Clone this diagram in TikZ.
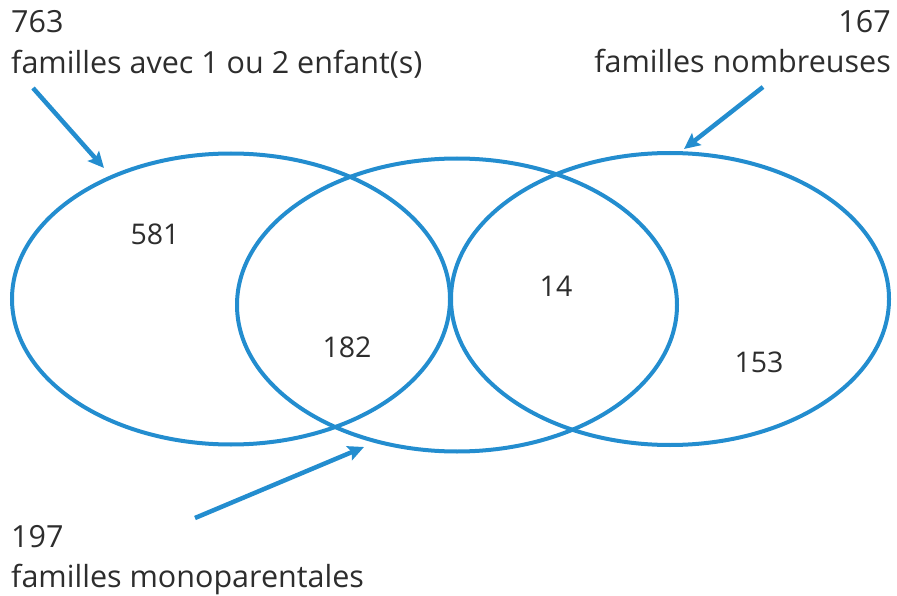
\documentclass[tikz,border=0pt]{standalone}
\usepackage{fontspec}
\setmainfont{Open Sans}
\usetikzlibrary{arrows.meta,shapes.geometric}
\definecolor{vblue}{RGB}{35,141,207}
\definecolor{vtext}{RGB}{45,45,45}
\tikzset{
  setshape/.style={draw=vblue, line width=4pt, ellipse, inner sep=0pt, outer sep=0pt},
  lbl/.style={text=vtext, inner sep=0pt, font=\fontsize{30.5}{36}\selectfont},
  num/.style={text=vtext, inner sep=0pt, anchor=base, font=\fontsize{28.5}{34}\selectfont},
  arr/.style={draw=vblue, line width=4.5pt, -{Stealth[length=16pt,width=15pt,inset=3pt]}}
}
\begin{document}
\begin{tikzpicture}[x=1pt,y=-1pt]
\useasboundingbox (0,0) rectangle (897,596);
\node[setshape, minimum width=438pt, minimum height=291pt] (A) at (231,299) {};
\node[setshape, minimum width=440pt, minimum height=293pt] (B) at (457,305) {};
\node[setshape, minimum width=438pt, minimum height=292pt] (C) at (670,299) {};

\node[lbl, anchor=base west] (a1) at (11,33) {763};
\node[lbl, anchor=base west] (a2) at (11,74) {familles avec 1 ou 2 enfant(s)};
\node[lbl, anchor=base east] (c1) at (891,33) {167};
\node[lbl, anchor=base east] (c2) at (891,73) {familles nombreuses};
\node[lbl, anchor=base west] (b1) at (11,547) {197};
\node[lbl, anchor=base west] (b2) at (11,587) {familles monoparentales};

\node[num] (n1) at (155,245) {581};
\node[num] (n2) at (347,357) {182};
\node[num] (n3) at (556,296) {14};
\node[num] (n4) at (759,372) {153};

\coordinate (s1) at (33,88);  \coordinate (t1) at (104,168);
\coordinate (s2) at (763,87); \coordinate (t2) at (684,149);
\coordinate (s3) at (195,518); \coordinate (t3) at (364,447);
\draw[arr] (s1) -- (t1);
\draw[arr] (s2) -- (t2);
\draw[arr] (s3) -- (t3);
\end{tikzpicture}
\end{document}
